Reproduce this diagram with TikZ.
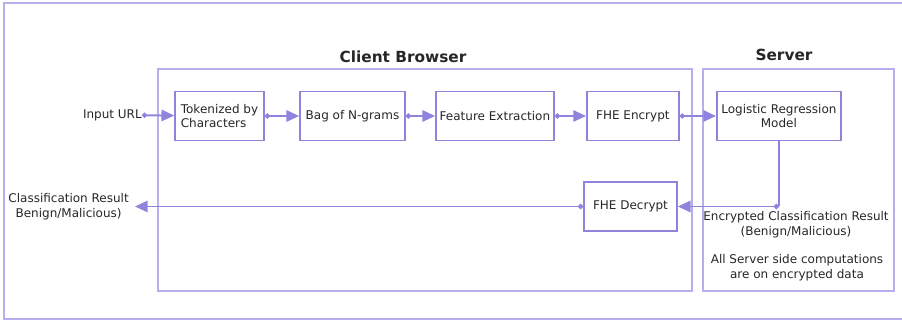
\documentclass[tikz,border=0pt]{standalone}
\usepackage{fontspec}
\setmainfont{DejaVu Sans}
\usepackage{tikz}
\usetikzlibrary{arrows.meta,positioning}
\definecolor{lav}{RGB}{142,132,222}
\definecolor{lavlight}{RGB}{182,175,238}

\begin{document}
\begin{tikzpicture}[x=0.75pt,y=-0.75pt,% pixel grid of the reference
			every node/.style={
				align=center,	% so that "\\" breaks the line
				font=\fontsize{9}{11.2}\selectfont,
				text=black!85
			},
			blk/.style={rectangle,draw=lav,line width=1.3pt,minimum height=36.75pt,inner sep=2pt},
			area/.style={rectangle,draw=lavlight,line width=1.3pt,minimum height=166.5pt},
			title/.style={font=\fontsize{11.5}{13}\selectfont\bfseries},
			every edge/.style={draw=lav,line width=1.4pt},
			flow/.style={{Circle[length=3.8pt]}-{Triangle[length=9.5pt,width=8.5pt]}}
		]
		\useasboundingbox (0,0) rectangle (902,323);
		\draw[draw=lavlight,line width=1.3pt] (902,3) -| (4,319) -- (902,319);
		% the two sides
		\node[area,minimum width=400.5pt](client) at (425,180){};
		\node[area,minimum width=143.25pt](server) at (798.5,180){};
		\node[title](clienttitle) at (403,57){Client Browser};
		\node[title](servertitle) at (784,55){Server};
		% pipeline on the client
		\node[blk,minimum width=66.75pt,align=left](tok) at (219.5,116){Tokenized by\\Characters};
		\node[blk,minimum width=78.75pt](bag)[right=25.7pt of tok]{Bag of N-grams};
		\node[blk,minimum width=88.5pt](feat)[right=21.9pt of bag]{Feature Extraction};
		\node[blk,minimum width=69pt](enc)[right=23.4pt of feat]{FHE Encrypt};
		\node[blk,minimum width=93pt](lr)[right=27.2pt of enc]{Logistic Regression\\Model};
		\node[blk,minimum width=69.75pt](dec) at (630.5,206.5){FHE Decrypt};
		\node[anchor=east,inner sep=0pt](inurl) at (142,115){Input URL};
		\node[anchor=east,inner sep=4.5pt](result) at (135,206.5){Classification Result\\Benign/Malicious)};
		\node(encres) at (796,225){Encrypted Classification Result\\(Benign/Malicious)};
		\node(note) at (797,268){All Server side computations\\are on encrypted data};
		\coordinate (turn) at (lr |- dec);
		\path[flow]
		(inurl)edge []	node [] {} (tok)
		(tok)edge []	node [] {} (bag)
		(bag)edge []	node [] {} (feat)
		(feat)edge []	node [] {} (enc)
		(enc)edge []	node [] {} (lr)
		(turn)edge []	node [] {} (dec)
		(dec)edge []	node [] {} (result)
		;
		\path
		(lr)edge []	node [] {} (turn)
		;
	\end{tikzpicture}
\end{document}
